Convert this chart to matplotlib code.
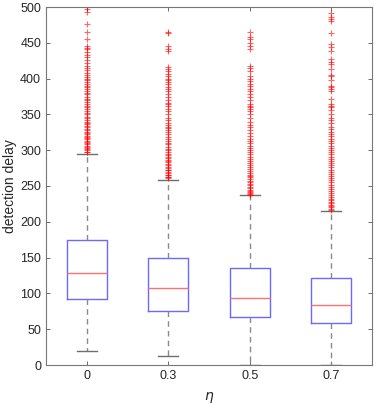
import matplotlib
matplotlib.use("Agg")
import matplotlib.pyplot as plt

plt.rcParams['font.family'] = ['Liberation Sans', 'DejaVu Sans']

eta_labels = ['0', '0.3', '0.5', '0.7']
medians = [128, 107, 94, 84]
q1 = [92, 76, 67, 58]
q3 = [174, 150, 135, 121]
whis_lo = [19, 12, 0, 0]
whis_hi = [295, 259, 237, 215]

out1 = [297, 298, 300, 301, 303, 305, 306, 308, 310, 311, 313, 315, 317, 318, 320, 322,
        324, 326, 328, 330, 332, 334, 336, 338, 340, 342, 345, 347, 350, 352, 355, 357,
        360, 362, 365, 368, 370, 372, 375, 378, 380, 383, 386, 388, 390, 392, 395, 398,
        400, 402, 405, 408, 412, 415, 417, 422, 426, 430, 433, 437, 441, 443, 445, 455,
        465, 476, 493, 497, 500]
out2 = [261, 262, 263, 265, 266, 268, 270, 272, 273, 275, 277, 279, 281, 283, 285, 287,
        289, 291, 293, 295, 297, 300, 302, 305, 308, 310, 313, 316, 319, 322, 325, 328,
        331, 333, 335, 338, 342, 345, 350, 355, 358, 362, 364, 366, 370, 374, 378, 382,
        385, 388, 392, 395, 398, 400, 403, 407, 410, 413, 416, 438, 442, 445, 463, 465]
out3 = [238, 239, 240, 242, 243, 245, 247, 249, 251, 253, 255, 257, 260, 262, 264, 266,
        268, 271, 274, 276, 279, 282, 285, 288, 291, 294, 297, 300, 303, 306, 310, 313,
        316, 320, 324, 328, 332, 335, 340, 345, 350, 355, 358, 360, 362, 365, 370, 375,
        378, 382, 386, 390, 393, 396, 400, 403, 410, 415, 418, 441, 445, 450, 456, 458, 465]
out4 = [217, 218, 220, 222, 224, 226, 228, 230, 232, 235, 238, 240, 243, 246, 249, 252,
        255, 258, 261, 264, 267, 270, 273, 276, 279, 282, 285, 288, 291, 294, 297, 300,
        303, 306, 310, 313, 316, 320, 323, 326, 330, 333, 338, 342, 345, 350, 356, 360,
        362, 365, 372, 382, 385, 388, 390, 398, 403, 405, 414, 421, 423, 427, 438, 444,
        448, 463, 480, 483, 486, 491]
outliers = [out1, out2, out3, out4]

stats = []
for i in range(4):
    stats.append(dict(med=medians[i], q1=q1[i], q3=q3[i],
                      whislo=whis_lo[i], whishi=whis_hi[i], fliers=outliers[i]))

fig = plt.figure(figsize=(3.74, 4.04), dpi=100)
ax = fig.add_axes([46 / 374, 39 / 404, 326 / 374, 358 / 404])

ax.bxp(stats, positions=[1, 2, 3, 4], widths=0.49, showfliers=True,
       boxprops=dict(color='#6a6aff', linewidth=1.0),
       medianprops=dict(color='#ff7070', linewidth=1.0),
       whiskerprops=dict(color='#8a8a8a', linewidth=1.0, linestyle=(0, (4, 3))),
       capprops=dict(color='#6e6e6e', linewidth=1.0),
       capwidths=0.245,
       flierprops=dict(marker='+', markeredgecolor='red', markersize=4,
                       markeredgewidth=0.8, alpha=0.6, linestyle='none'))

ax.set_xlim(0.5, 4.5)
ax.set_ylim(0, 500)
ax.set_yticks(range(0, 501, 50))
ax.set_xticks([1, 2, 3, 4])
ax.set_xticklabels(eta_labels)
ax.tick_params(direction='in', top=True, right=True, length=3, width=0.6,
               colors='#555555', labelsize=9, labelcolor='#262626')
for s in ax.spines.values():
    s.set_color('#777777')
    s.set_linewidth(0.8)

ax.set_ylabel('detection delay', fontsize=10, color='#262626', labelpad=2)
ax.set_xlabel(r'$\eta$', fontsize=10, color='#262626', labelpad=6)

fig.savefig('out.png', dpi=100)
